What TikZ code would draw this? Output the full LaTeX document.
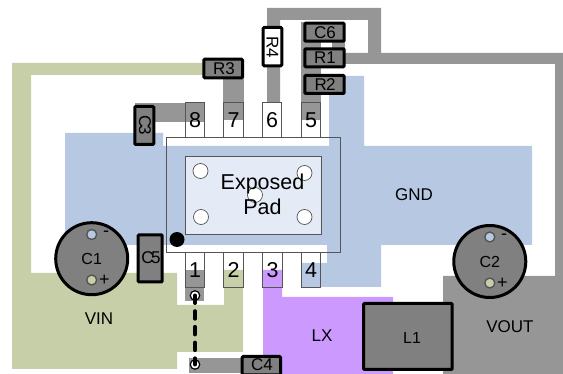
\documentclass[tikz,border=0pt]{standalone}
\usepackage{fontspec}
\setmainfont{Liberation Sans}
\definecolor{vin}{HTML}{C6CFA8}
\definecolor{gnd}{HTML}{B7C9E2}
\definecolor{lx}{HTML}{CC99FF}
\definecolor{tr}{HTML}{969696}
\definecolor{comp}{HTML}{808080}
\definecolor{pad}{HTML}{E4EBF6}
\definecolor{pinl}{HTML}{555555}
\tikzset{
 partbox/.style={draw=black,line width=3pt,fill=comp,rounded corners=1pt},
 lbl/.style={inner sep=0pt,font=\fontsize{17}{17}\selectfont},
 clbl/.style={inner sep=0pt,font=\fontsize{16}{16}\selectfont},
 sgn/.style={inner sep=0pt,font=\fontsize{18}{18}\selectfont},
 pinnum/.style={inner sep=0pt,font=\fontsize{21.5}{21.5}\selectfont},
 pinbox/.style={draw=pinl,line width=0.9pt},
 via/.style={draw=pinl,line width=0.7pt,fill=white},
 hole/.style={draw=pinl,line width=1.4pt},
 tvia/.style={circle,draw=black,line width=1.2pt,fill=white,minimum size=9.5pt,inner sep=0pt},
}
\begin{document}
\begin{tikzpicture}[x=1pt,y=-1pt]
\useasboundingbox (0,0) rectangle (563,374);
% copper
\fill[gnd] (65,133) -- (163,133) -- (163,146) -- (329,146) -- (329,76) -- (364,76) -- (364,146) -- (532,146) -- (532,245) -- (381,245) -- (381,287) -- (301,287) -- (301,263) -- (327,263) -- (327,245) -- (65,245) -- cycle;
\fill[vin] (12,63) -- (205,63) -- (205,75) -- (31,75) -- (31,273) -- (177,273) -- (177,305) -- (224,305) -- (224,270) -- (243,270) -- (243,352) -- (177,352) -- (177,369) -- (12,369) -- cycle;
\fill[lx] (263,270) -- (282,270) -- (282,297) -- (393,297) -- (393,374) -- (263,374) -- cycle;
\fill[tr] (267,102) -- (267,8) -- (381,8) -- (381,53) -- (563,53) -- (563,374) -- (443,374) -- (443,276) -- (555,276) -- (555,64) -- (340,64) -- (340,53) -- (368,53) -- (368,20) -- (280,20) -- (280,102) -- cycle;
\fill[tr] (135,103) rectangle (204,122);
\fill[tr] (223,68) rectangle (244,120);
\fill[tr] (301,22) rectangle (321,120);
\fill[tr] (332,40) rectangle (345,50);
\fill[tr] (185,270) rectangle (205,287);
\fill[tr] (185,287) rectangle (204,301);
\fill[tr] (189,358) rectangle (245,373);
% package
\draw[pinl,line width=0.9pt] (166,137) rectangle (340,252);
\node[pinbox,minimum width=136pt,minimum height=78pt,inner sep=0pt,fill=pad] (pad) at (253,195) {};
\foreach \n/\x/\y in {a/200.5/171,b/201/217,c/304.5/173,d/304.5/217,e/255/195}
  \node[via,circle,minimum size=15pt,inner sep=0pt] (v\n) at (\x,\y) {};
\node[inner sep=0pt,align=center,font=\fontsize{21.5}{25}\selectfont] (padt) at (262.5,194.5) {Exposed\\Pad\hspace{3pt}};
\fill[black] (177,239.5) circle (7.5);
% pins
\foreach \n/\x/\y in {8/195/120,7/233.5/120,6/272/120,5/311/120,1/195/270,2/233.5/270,3/272.5/270,4/311/270}{
  \node[pinbox,minimum width=19.5pt,minimum height=35pt,inner sep=0pt] (p\n) at (\x,\y-0.5) {};
  \node[pinnum] at (\x,\y) {\n};
}
% components
\draw[partbox] (203.8,59.2) rectangle (242.5,77.8);
\node[lbl] (r3) at (224,68.5) {R3};
\draw[partbox,fill=white] (263.2,27.5) rectangle (281.8,65.8);
\node[lbl,rotate=-90] (r4) at (272.5,47) {R4};
\draw[partbox] (134.8,106.5) rectangle (153.8,144.5);
\node[lbl,rotate=-90,font=\fontsize{17}{17}\selectfont\addfontfeatures{LetterSpace=-15}] (c3) at (145,125) {C3};
\draw[partbox] (304.8,23.2) rectangle (344.2,41.2);
\node[lbl] (c6) at (325,32.5) {C6};
\draw[partbox] (304.8,48.8) rectangle (344.2,66.8);
\node[lbl] (r1) at (325,58) {R1};
\draw[partbox] (304.8,75.5) rectangle (344.2,93.5);
\node[lbl,font=\fontsize{17}{17}\selectfont\addfontfeatures{LetterSpace=-5}] (r2) at (325,85) {R2};
\draw[partbox] (138.2,234.8) rectangle (162.2,282);
\node[lbl,font=\fontsize{17}{17}\selectfont\addfontfeatures{LetterSpace=-15}] (c5) at (151,258) {C5};
\draw[partbox] (242.2,356.5) rectangle (280.5,375);
\node[lbl] (c4) at (262,365) {C4};
\draw[partbox] (363.5,303.5) rectangle (452.2,369.5);
\node[clbl] (l1) at (412,338) {L1};
% electrolytics
\foreach \n/\x/\y in {1/91.7/258.7,2/489.8/261.5}{
  \node[circle,draw=black,line width=3pt,fill=comp,minimum size=72pt,inner sep=0pt] (C\n) at (\x,\y) {};
  \node[clbl] at (\x,\y) {C\n};
}
\draw[hole,fill=gnd] (91.7,234.5) circle (5);
\draw[hole,fill=vin] (91.7,280) circle (5);
\draw[hole,fill=gnd] (489.8,237) circle (5);
\draw[hole,fill=vin] (489.8,283) circle (5);
\node[sgn] at (106,234) {-};
\node[sgn] at (104.5,280) {+};
\node[sgn] at (504,237) {-};
\node[sgn] at (502.5,283) {+};
% vias and link
\node[tvia] (t1) at (195,295.5) {};
\node[tvia] (t2) at (195,364.5) {};
\draw[black,line width=4pt,dash pattern=on 7.5pt off 8.2pt,line cap=round] (t1.center) -- (t2.center);
% net labels
\node[lbl] at (99,319) {VIN};
\node[lbl] at (414,195) {GND};
\node[lbl] at (322,336) {LX};
\node[lbl] at (510,327) {VOUT};
\end{tikzpicture}
\end{document}
